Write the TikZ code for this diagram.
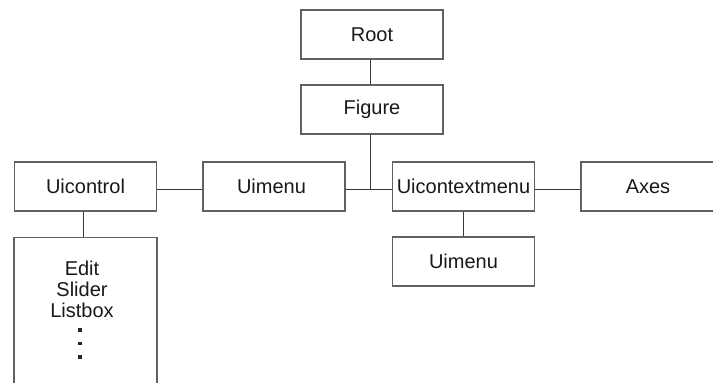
\documentclass[tikz,border=0pt]{standalone}
\usepackage{fontspec}
\setmainfont{Liberation Sans}
\begin{document}
\begin{tikzpicture}[x=1pt,y=-1pt,
  box/.style={draw=black!62, line width=1.1pt, fill=white, minimum width=142pt,
              minimum height=49pt, inner sep=0pt, text=black!90,
              font=\fontsize{20}{22}\selectfont},
  link/.style={draw=black!78, line width=1pt},
  dotmark/.style={fill=black!85}]
\useasboundingbox (0,0) rectangle (713,383);
\clip (0,0) rectangle (713,383);

% object hierarchy boxes
\node[box] (root)   at (372,34.5)  {Root};
\node[box] (figure) at (372,109.5) {Figure};
\node[box] (uictl)  at (85.5,186.5) {Uicontrol};
\node[box] (uimenuA) at (274,186.5) {\hspace{-5pt}Uimenu};
\node[box] (uictx)  at (463.5,186.5) {Uicontextmenu};
\node[box, minimum width=134pt] (axes) at (648,186.5) {Axes};
\node[box] (uimenuB) at (463.5,261.5) {Uimenu};
\node[box, minimum width=143pt, minimum height=200pt, anchor=north] (styles) at (85.5,237) {};
\node[anchor=north, align=center, inner sep=0pt, text=black!90,
      font=\fontsize{20}{21}\selectfont] (styletext) at (82,261) {Edit\\Slider\\Listbox};
\foreach \yy in {330,343.5,357}
  \fill[dotmark] (78.4,\yy-1.6) rectangle (81.6,\yy+1.6);

% connectors
\draw[link] ([xshift=-2pt]root.south) -- ([xshift=-2pt]figure.north);
\coordinate (junction) at ([xshift=-2pt]figure.south |- 0,189);
\draw[link] ([xshift=-2pt]figure.south) -- (junction);
\draw[link] ([yshift=-2.6pt]uimenuA.east) -- ([yshift=-2.6pt]uictx.west);
\draw[link] ([yshift=-2.6pt]uictl.east) -- ([yshift=-2.6pt]uimenuA.west);
\draw[link] ([yshift=-2.6pt]uictx.east) -- ([yshift=-2.6pt]axes.west);
\draw[link] (uictx.south) -- (uimenuB.north);
\draw[link] ([xshift=-2.5pt]uictl.south) -- ([xshift=-2.5pt]styles.north);
\end{tikzpicture}
\end{document}
